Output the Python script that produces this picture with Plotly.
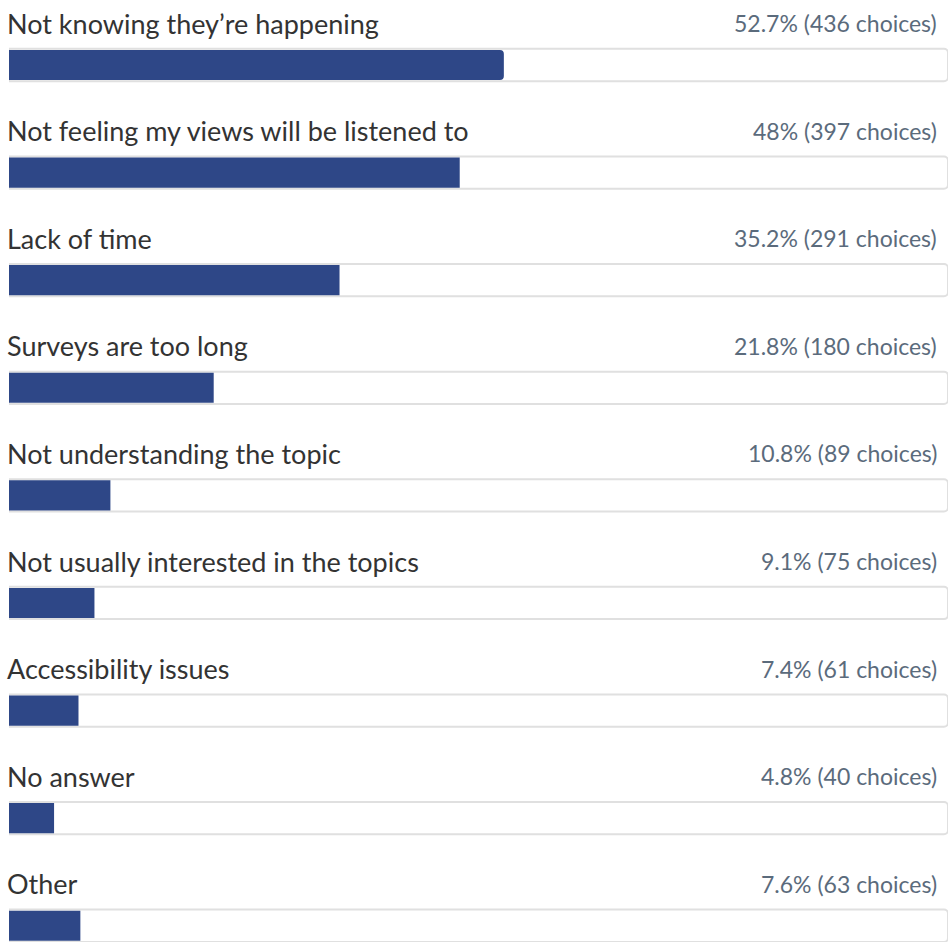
import plotly.graph_objects as go

categories = [
    "Not knowing they’re happening",
    "Not feeling my views will be listened to",
    "Lack of time",
    "Surveys are too long",
    "Not understanding the topic",
    "Not usually interested in the topics",
    "Accessibility issues",
    "No answer",
    "Other",
]
percents = [52.7, 48, 35.2, 21.8, 10.8, 9.1, 7.4, 4.8, 7.6]
choices = [436, 397, 291, 180, 89, 75, 61, 40, 63]
pct_labels = ["52.7%", "48%", "35.2%", "21.8%", "10.8%", "9.1%", "7.4%", "4.8%", "7.6%"]

ypos = list(range(len(categories)))

fig = go.Figure()
fig.add_trace(go.Bar(
    y=ypos, x=[100] * len(categories), orientation="h",
    marker=dict(color="white", line=dict(color="#e0e0e0", width=2)),
    width=0.3, hoverinfo="skip", showlegend=False,
))
fig.add_trace(go.Bar(
    y=ypos, x=percents, orientation="h",
    marker=dict(color="#2e4787", line=dict(width=0)),
    width=0.28, showlegend=False,
    customdata=choices,
    hovertemplate="%{x}% (%{customdata} choices)<extra></extra>",
))

annotations = []
for i, (c, p, n) in enumerate(zip(categories, pct_labels, choices)):
    annotations.append(dict(
        x=0, y=i - 0.39, xref="x", yref="y", text=c, showarrow=False,
        xanchor="left", yanchor="middle", xshift=-4,
        font=dict(family="Lato", size=27, color="#333333"),
    ))
    annotations.append(dict(
        x=99.0, y=i - 0.39, xref="x", yref="y", text=f"{p} ({n} choices)",
        showarrow=False, xanchor="right", yanchor="middle",
        font=dict(family="Lato", size=23, color="#5b6b7c"),
    ))

fig.update_layout(
    width=948, height=942,
    margin=dict(l=9, r=0, t=0, b=0),
    paper_bgcolor="white", plot_bgcolor="white",
    barmode="overlay", barcornerradius=4,
    xaxis=dict(range=[0, 100], visible=False, fixedrange=True),
    yaxis=dict(range=[8.151, -0.604], visible=False, fixedrange=True),
    annotations=annotations,
)

fig.write_html("out.html")
